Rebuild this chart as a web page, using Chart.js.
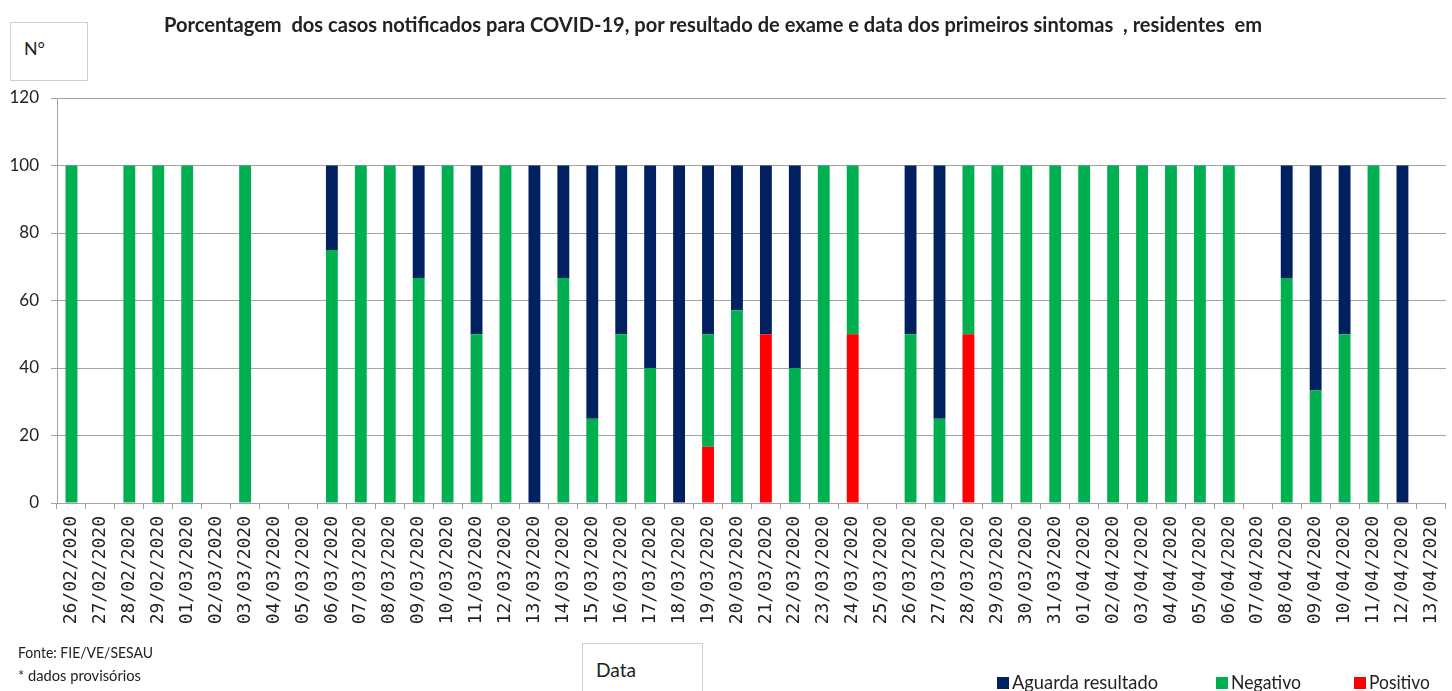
<!DOCTYPE html>
<html lang="pt">
<head>
  <meta charset="UTF-8" />
  <title>Porcentagem dos casos notificados para COVID-19</title>
  <script src="https://cdn.jsdelivr.net/npm/chart.js"></script>
  <style>
    html, body { margin: 0; padding: 0; background: #fff; overflow: hidden; }
    body { width: 1452px; height: 691px; position: relative; font-family: Lato, sans-serif; color: #222; }
    #chart { position: absolute; left: 0; top: 0; }
    .txt { position: absolute; white-space: pre; line-height: 1; transform-origin: 0 0; }
    .box { position: absolute; border: 1.5px solid #cfcfcf; box-sizing: border-box; background: #fff; }
    .sq { position: absolute; width: 12px; height: 12px; }
  </style>
</head>
<body>
  <canvas id="chart" width="1460" height="691"></canvas>

  <span class="txt" id="title" data-w="1098" style="left:164px; top:13px; font-size:21px; font-weight:bold;">Porcentagem  dos casos notificados para COVID-19, por resultado de exame e data dos primeiros sintomas  , residentes  em</span>

  <div class="box" style="left:10px; top:22px; width:78px; height:59px;"></div>
  <span class="txt" data-w="21" style="left:24px; top:39px; font-size:18px;">N°</span>

  <span class="txt" data-w="135" style="left:18px; top:645px; font-size:15px;">Fonte: FIE/VE/SESAU</span>
  <span class="txt" data-w="123" style="left:18px; top:668px; font-size:15px;">* dados provisórios</span>

  <div class="box" style="left:582px; top:643px; width:121px; height:60px;"></div>
  <span class="txt" data-w="40" style="left:596px; top:660px; font-size:19px;">Data</span>

  <div class="sq" style="left:997px; top:677px; background:#002060;"></div>
  <span class="txt" data-w="146" style="left:1012px; top:672px; font-size:19px;">Aguarda resultado</span>
  <div class="sq" style="left:1216px; top:677px; background:#00B050;"></div>
  <span class="txt" data-w="70" style="left:1231px; top:672px; font-size:19px;">Negativo</span>
  <div class="sq" style="left:1354px; top:677px; background:#FF0000;"></div>
  <span class="txt" data-w="61" style="left:1369px; top:672px; font-size:19px;">Positivo</span>

  <script>
    const dates = [
      '26/02/2020', '27/02/2020', '28/02/2020', '29/02/2020', '01/03/2020', '02/03/2020',
      '03/03/2020', '04/03/2020', '05/03/2020', '06/03/2020', '07/03/2020', '08/03/2020',
      '09/03/2020', '10/03/2020', '11/03/2020', '12/03/2020', '13/03/2020', '14/03/2020',
      '15/03/2020', '16/03/2020', '17/03/2020', '18/03/2020', '19/03/2020', '20/03/2020',
      '21/03/2020', '22/03/2020', '23/03/2020', '24/03/2020', '25/03/2020', '26/03/2020',
      '27/03/2020', '28/03/2020', '29/03/2020', '30/03/2020', '31/03/2020', '01/04/2020',
      '02/04/2020', '03/04/2020', '04/04/2020', '05/04/2020', '06/04/2020', '07/04/2020',
      '08/04/2020', '09/04/2020', '10/04/2020', '11/04/2020', '12/04/2020', '13/04/2020'
    ];

    // percent of cases per day, stacked bottom to top
    const positivo = [
      0, 0, 0, 0, 0, 0, 0, 0, 0, 0,
      0, 0, 0, 0, 0, 0, 0, 0, 0, 0,
      0, 0, 16.7, 0, 50, 0, 0, 50, 0, 0,
      0, 50, 0, 0, 0, 0, 0, 0, 0, 0,
      0, 0, 0, 0, 0, 0, 0, 0
    ];
    const negativo = [
      100, 0, 100, 100, 100, 0, 100, 0, 0, 75,
      100, 100, 66.7, 100, 50, 100, 0, 66.7, 25, 50,
      40, 0, 33.3, 57.1, 0, 40, 100, 50, 0, 50,
      25, 50, 100, 100, 100, 100, 100, 100, 100, 100,
      100, 0, 66.7, 33.3, 50, 100, 0, 0
    ];
    const aguarda = [
      0, 0, 0, 0, 0, 0, 0, 0, 0, 25,
      0, 0, 33.3, 0, 50, 0, 100, 33.3, 75, 50,
      60, 100, 50, 42.9, 50, 60, 0, 0, 0, 50,
      75, 0, 0, 0, 0, 0, 0, 0, 0, 0,
      0, 0, 33.3, 66.7, 50, 0, 100, 0
    ];
    const yTicks = [0, 20, 40, 60, 80, 100, 120];

    const gridColor = '#a3a3a3';

    const ctx = document.getElementById('chart').getContext('2d');
    const chart = new Chart(ctx, {
      type: 'bar',
      data: {
        labels: dates,
        datasets: [
          { label: 'Positivo', data: positivo, backgroundColor: '#FF0000' },
          { label: 'Negativo', data: negativo, backgroundColor: '#00B050' },
          { label: 'Aguarda resultado', data: aguarda, backgroundColor: '#002060' }
        ]
      },
      options: {
        responsive: false,
        animation: false,
        layout: { padding: { top: 98, right: 2, left: 0, bottom: 0 } },
        datasets: { bar: { barPercentage: 0.41, categoryPercentage: 1, borderWidth: 0 } },
        plugins: { legend: { display: false }, tooltip: { enabled: false } },
        scales: {
          x: {
            stacked: true,
            offset: true,
            grid: { drawOnChartArea: false, offset: true, tickLength: 6, color: gridColor },
            border: { color: gridColor },
            ticks: {
              autoSkip: false, maxRotation: 90, minRotation: 90, padding: 7,
              color: '#222', font: { family: 'DejaVu Sans Mono', size: 18 }
            },
            afterFit(s) { s.height = 188; }
          },
          y: {
            stacked: true,
            min: yTicks[0],
            max: yTicks[yTicks.length - 1],
            afterBuildTicks(s) { s.ticks = yTicks.map(v => ({ value: v })); },
            grid: { color: gridColor, tickLength: 6 },
            border: { color: gridColor },
            ticks: { padding: 12, color: '#222', font: { family: 'Lato', size: 17 } },
            afterFit(s) { s.width = 57; }
          }
        }
      }
    });

    function fitTexts() {
      document.querySelectorAll('.txt[data-w]').forEach(el => {
        el.style.transform = 'none';
        const w = el.getBoundingClientRect().width;
        el.style.transform = `scaleX(${el.dataset.w / w})`;
      });
    }
    fitTexts();
    document.fonts && document.fonts.ready.then(() => { fitTexts(); chart.update(); });
  </script>
</body>
</html>
